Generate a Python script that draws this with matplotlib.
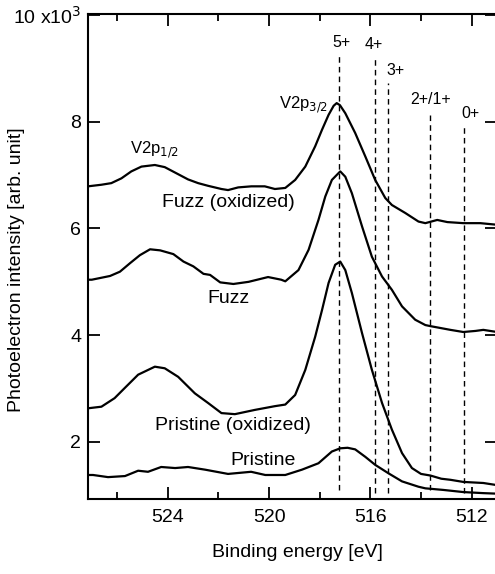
import matplotlib
matplotlib.use("Agg")
import matplotlib.pyplot as plt
from matplotlib.ticker import FixedLocator
import numpy as np

plt.rcParams['font.family'] = ['Liberation Sans', 'DejaVu Sans']

# binding energies (eV) and intensities (x10^3 counts)
e_fuzz_ox = [527.15, 526.62, 526.23, 525.83, 525.44, 525.04, 524.51, 524.12, 523.72, 523.2,
             522.8, 522.41, 521.88, 521.62, 521.22, 520.7, 520.17, 519.77, 519.36, 518.97,
             518.57, 518.18, 517.91, 517.65, 517.45, 517.33, 517.2, 516.99, 516.6, 516.2,
             515.81, 515.41, 515.15, 514.62, 514.1, 513.83, 513.36, 512.96, 512.33, 511.66,
             511.0]
i_fuzz_ox = [6.79, 6.82, 6.85, 6.94, 7.07, 7.16, 7.19, 7.15, 7.05, 6.92,
             6.85, 6.80, 6.74, 6.72, 6.77, 6.79, 6.79, 6.74, 6.76, 6.91,
             7.16, 7.54, 7.85, 8.13, 8.30, 8.35, 8.31, 8.16, 7.79, 7.35,
             6.91, 6.57, 6.44, 6.29, 6.13, 6.10, 6.16, 6.12, 6.10, 6.10,
             6.07]

e_fuzz = [527.15, 527.0, 526.28, 525.89, 525.49, 525.1, 524.7, 524.3, 523.78, 523.38,
          522.99, 522.59, 522.33, 521.93, 521.41, 520.81, 520.04, 519.52, 519.36, 518.84,
          518.44, 518.05, 517.78, 517.52, 517.19, 516.99, 516.73, 516.33, 515.94, 515.54,
          515.15, 514.75, 514.23, 513.83, 513.63, 512.84, 512.33, 511.85, 511.54, 511.0]
i_fuzz = [5.04, 5.04, 5.11, 5.19, 5.35, 5.50, 5.61, 5.59, 5.52, 5.38,
          5.29, 5.15, 5.13, 4.99, 4.96, 5.00, 5.09, 5.04, 5.01, 5.22,
          5.60, 6.16, 6.60, 6.91, 7.07, 6.97, 6.66, 6.04, 5.47, 5.10,
          4.85, 4.54, 4.29, 4.19, 4.17, 4.10, 4.06, 4.08, 4.10, 4.06]

e_pris_ox = [527.15, 526.62, 526.1, 525.7, 525.17, 524.51, 524.12, 523.59, 522.93, 522.41,
             521.88, 521.35, 520.56, 519.77, 519.36, 518.97, 518.57, 518.18, 517.91, 517.65,
             517.39, 517.19, 516.99, 516.73, 516.33, 515.94, 515.54, 515.15, 514.75, 514.36,
             514.0, 513.63, 513.2, 512.84, 512.33, 511.54, 511.0]
i_pris_ox = [2.63, 2.66, 2.82, 3.01, 3.26, 3.41, 3.38, 3.22, 2.91, 2.73,
             2.54, 2.52, 2.60, 2.67, 2.70, 2.88, 3.35, 3.97, 4.47, 4.98,
             5.32, 5.38, 5.22, 4.79, 4.04, 3.35, 2.73, 2.23, 1.79, 1.51,
             1.40, 1.37, 1.31, 1.29, 1.25, 1.23, 1.19]

e_pris = [527.15, 526.95, 526.36, 525.69, 525.17, 524.78, 524.26, 523.71, 523.2, 522.53,
          521.62, 520.71, 520.15, 519.36, 518.7, 518.05, 517.52, 517.19, 516.9, 516.6,
          516.2, 515.81, 515.28, 514.75, 514.1, 513.83, 513.12, 512.33, 511.54, 511.0]
i_pris = [1.38, 1.38, 1.34, 1.36, 1.46, 1.44, 1.53, 1.51, 1.53, 1.48,
          1.40, 1.44, 1.38, 1.38, 1.48, 1.60, 1.82, 1.88, 1.89, 1.86,
          1.72, 1.57, 1.41, 1.26, 1.16, 1.13, 1.10, 1.06, 1.04, 1.03]

# oxidation state reference lines: energy, label, top, bottom (x10^3)
state_e = [517.23, 515.81, 515.29, 513.63, 512.32]
state_lbl = ["5+", "4+", "3+", "2+/1+", "0+"]
state_top = [9.29, 9.22, 8.73, 8.19, 7.94]
state_bot = [1.10, 1.04, 1.04, 1.10, 1.04]
lbl_xy = [(517.15, 9.48), (515.85, 9.44), (515.02, 8.97), (513.63, 8.41), (512.05, 8.15)]

curve_names = ["Fuzz (oxidized)", "Fuzz", "Pristine (oxidized)", "Pristine"]
curve_lbl_xy = [(521.62, 6.48), (521.62, 4.68), (521.42, 2.30), (520.23, 1.66)]


def main():
    fig = plt.figure(figsize=(4.95, 5.74), dpi=100)
    ax = fig.add_axes([88 / 495, 75 / 574, 409 / 495, 485 / 574])

    for e, i in [(e_fuzz_ox, i_fuzz_ox), (e_fuzz, i_fuzz), (e_pris_ox, i_pris_ox), (e_pris, i_pris)]:
        ax.plot(e, np.array(i) * 1000, color="black", lw=1.6, solid_joinstyle="round")

    for e, top, bot in zip(state_e, state_top, state_bot):
        ax.vlines(e, bot * 1000, top * 1000, colors="black", lw=1.0, linestyles=(0, (4, 3)))
    for lbl, (x, y) in zip(state_lbl, lbl_xy):
        ax.text(x, y * 1000, lbl, ha="center", va="center", fontsize=11.5)

    for name, (x, y) in zip(curve_names, curve_lbl_xy):
        ax.text(x, y * 1000, name, ha="center", va="center", fontsize=14)

    ax.text(518.65, 8320, "V2p$_{3/2}$", ha="center", va="center", fontsize=12)
    ax.text(524.54, 7480, "V2p$_{1/2}$", ha="center", va="center", fontsize=12)

    ax.set_xlim(527.15, 511.0)
    ax.set_ylim(930, 10020)
    ax.xaxis.set_major_locator(FixedLocator([524, 520, 516, 512]))
    ax.xaxis.set_minor_locator(FixedLocator([526, 522, 518, 514]))
    ax.yaxis.set_major_locator(FixedLocator([2000, 4000, 6000, 8000, 10000]))
    ax.set_yticklabels(["2", "4", "6", "8", "10 x10$^3$"])

    ax.tick_params(which="both", direction="in", top=True, right=True, labelsize=14, width=1.3)
    ax.tick_params(which="major", length=8.5)
    ax.tick_params(which="minor", length=5)
    ax.tick_params(axis="x", pad=7)
    ax.tick_params(axis="y", pad=5)
    for s in ax.spines.values():
        s.set_linewidth(1.5)

    ax.set_xlabel("Binding energy [eV]", fontsize=14)
    ax.set_ylabel("Photoelectron intensity [arb. unit]", fontsize=14)
    ax.xaxis.set_label_coords(0.511, -0.093)
    ax.yaxis.set_label_coords(-0.155, 0.472)

    fig.savefig("out.png", dpi=100)
    plt.close(fig)


if __name__ == "__main__":
    main()
